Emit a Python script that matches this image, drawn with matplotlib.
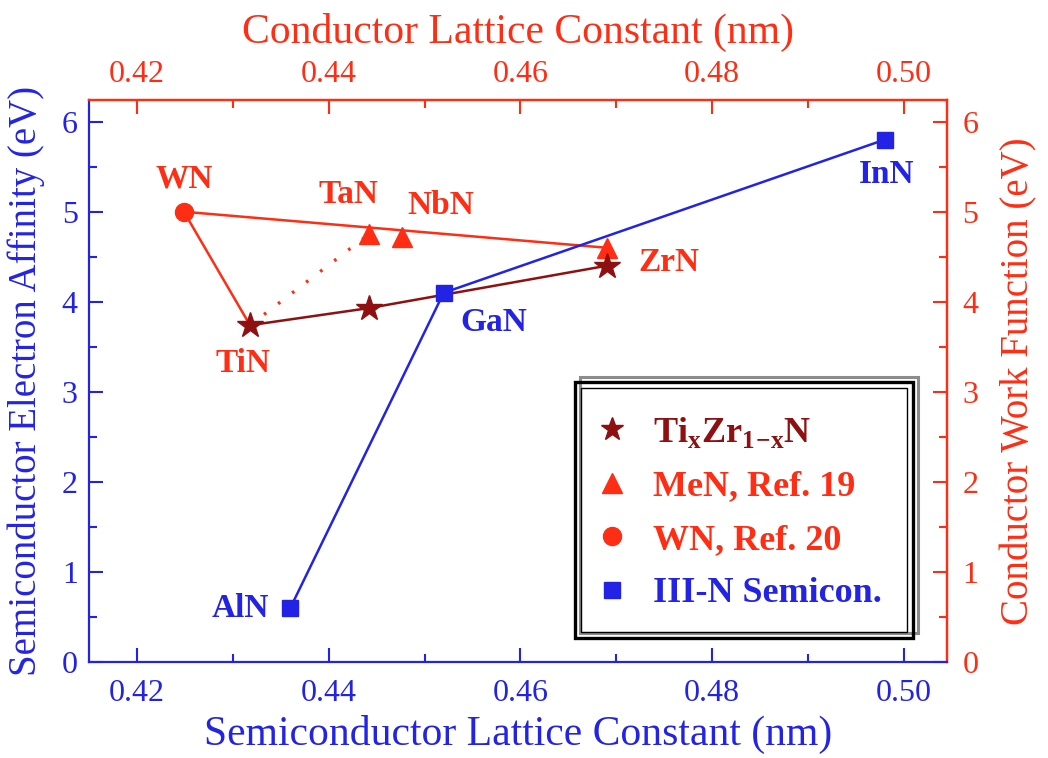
import numpy as np
import matplotlib
matplotlib.use("Agg")
import matplotlib.pyplot as plt
from matplotlib.ticker import MultipleLocator
from matplotlib.patches import Rectangle
from matplotlib.lines import Line2D

plt.rcParams["font.family"] = ["Liberation Serif", "DejaVu Serif"]
plt.rcParams["mathtext.fontset"] = "custom"
plt.rcParams["mathtext.rm"] = "Liberation Serif"
plt.rcParams["mathtext.bf"] = "Liberation Serif:bold"

BLUE = "#2323e6"
RED = "#ff2d14"
DARKRED = "#8e1010"

# III-N semiconductors: lattice constant (nm), electron affinity (eV)
semi_names = ["AlN", "GaN", "InN"]
semi_a = [0.436, 0.452, 0.498]
semi_chi = [0.6, 4.1, 5.8]

# Ti_xZr_{1-x}N alloys: lattice constant, work function
tizr_a = [0.4318, 0.4442, 0.469]
tizr_wf = [3.74, 3.93, 4.40]

# MeN, Ref. 19 (TaN, NbN, ZrN)
men_names = ["TaN", "NbN", "ZrN"]
men_a = [0.4442, 0.4477, 0.469]
men_wf = [4.75, 4.72, 4.60]

# WN, Ref. 20
wn_a = [0.4249]
wn_wf = [5.0]

# axis ticks
x_ticks = [0.42, 0.44, 0.46, 0.48, 0.50]
x_minor = [0.43, 0.45, 0.47, 0.49]
y_ticks = [0, 1, 2, 3, 4, 5, 6]
y_minor = [0.5, 1.5, 2.5, 3.5, 4.5, 5.5]

# label offsets (pixels) for point labels
semi_off = [(-50, 0), (50, -30), (2, -35)]

fig = plt.figure(figsize=(10.48, 7.58), dpi=100)
ax = fig.add_axes([0.0849, 0.1266, 0.8187, 0.7414])

# red polygon WN -> ZrN and WN -> TiN
ax.plot([wn_a[0], men_a[2]], [wn_wf[0], men_wf[2]], color=RED, lw=1.8, zorder=2)
ax.plot([wn_a[0], tizr_a[0]], [wn_wf[0], tizr_wf[0]], color=RED, lw=1.8, zorder=2)
# dotted TiN -> TaN
ax.plot([tizr_a[0], men_a[0]], [tizr_wf[0], men_wf[0]], color=RED, lw=2.4,
        ls=(0, (0.8, 4.5)), zorder=2)
# TixZr1-xN line
ax.plot(tizr_a, tizr_wf, color=DARKRED, lw=1.8, zorder=3)
# semiconductors
ax.plot(semi_a, semi_chi, color=BLUE, lw=1.8, zorder=3)

ax.plot(semi_a, semi_chi, ls="none", marker="s", ms=11, color=BLUE, zorder=5)
ax.plot(men_a, men_wf, ls="none", marker="^", ms=14, color=RED, zorder=4)
ax.plot(wn_a, wn_wf, ls="none", marker="o", ms=13, color=RED, zorder=4)
ax.plot(tizr_a, tizr_wf, ls="none", marker="*", ms=19, color=DARKRED, zorder=5)

lab_kw = dict(textcoords="offset pixels", ha="center", va="center",
              fontsize=24, fontweight="bold")
for n, x, y, o in zip(semi_names, semi_a, semi_chi, semi_off):
    ax.annotate(n, (x, y), xytext=o, color=BLUE, **lab_kw)
ax.annotate(men_names[0], (men_a[0], men_wf[0]), xytext=(-20, 40), color=RED, **lab_kw)
ax.annotate(men_names[1], (men_a[1], men_wf[1]), xytext=(38, 31), color=RED, **lab_kw)
ax.annotate(men_names[2], (tizr_a[2], tizr_wf[2]), xytext=(62, 3), color=RED, **lab_kw)
ax.annotate("WN", (wn_a[0], wn_wf[0]), xytext=(0, 33), color=RED, **lab_kw)
ax.annotate("TiN", (tizr_a[0], tizr_wf[0]), xytext=(-7, -38), color=RED, **lab_kw)

ax.set_xlim(0.415, 0.5045)
ax.set_ylim(0, 6.24)
ax.set_xticks(x_ticks, [f"{v:.2f}" for v in x_ticks])
ax.set_xticks(x_minor, minor=True)
ax.set_yticks(y_ticks, [str(v) for v in y_ticks])
ax.set_yticks(y_minor, minor=True)

ax.set_xlabel("Semiconductor Lattice Constant (nm)", fontsize=30, color=BLUE, labelpad=5)
ax.set_ylabel("Semiconductor Electron Affinity (eV)", fontsize=28, color=BLUE, labelpad=12)

ax.spines["left"].set_color(BLUE)
ax.spines["bottom"].set_color(BLUE)
ax.spines["top"].set_color(RED)
ax.spines["right"].set_color(RED)
for s in ax.spines.values():
    s.set_linewidth(1.6)
ax.tick_params(which="both", direction="in", colors=BLUE, labelsize=23, width=1.5,
               top=False, right=False, pad=8)
ax.tick_params(axis="x", which="both", pad=12)
ax.tick_params(which="major", length=10)
ax.tick_params(which="minor", length=6)

# right axis: conductor work function
axr = ax.secondary_yaxis("right")
axr.set_yticks(y_ticks, [str(v) for v in y_ticks])
axr.set_yticks(y_minor, minor=True)
axr.tick_params(which="both", direction="in", colors=RED, labelsize=23, width=1.5, pad=11)
axr.tick_params(which="major", length=10)
axr.tick_params(which="minor", length=6)
axr.spines["right"].set_color(RED)
axr.spines["right"].set_linewidth(1.6)
axr.set_ylabel("Conductor Work Function (eV)", fontsize=28, color=RED, labelpad=16)

# top axis: conductor lattice constant
axt = ax.secondary_xaxis("top")
axt.set_xticks(x_ticks, [f"{v:.2f}" for v in x_ticks])
axt.set_xticks(x_minor, minor=True)
axt.tick_params(which="both", direction="in", colors=RED, labelsize=23, width=1.5, pad=8)
axt.tick_params(which="major", length=10)
axt.tick_params(which="minor", length=6)
axt.spines["top"].set_color(RED)
axt.spines["top"].set_linewidth(1.6)
axt.set_xlabel("Conductor Lattice Constant (nm)", fontsize=30, color=RED, labelpad=12)

# legend
handles = [
    Line2D([], [], ls="none", marker="*", ms=17, color=DARKRED),
    Line2D([], [], ls="none", marker="^", ms=15, color=RED),
    Line2D([], [], ls="none", marker="o", ms=13, color=RED),
    Line2D([], [], ls="none", marker="s", ms=11, color=BLUE),
]
labels = [r"Ti$_{\mathbf{x}}$Zr$_{\mathbf{1\!-\!x}}$N", "MeN, Ref. 19",
          "WN, Ref. 20", "III-N Semicon."]
leg = ax.legend(handles, labels, loc="upper left", bbox_to_anchor=(0.588, 0.44),
                frameon=False, prop=dict(size=26, weight="bold"),
                handlelength=1.0, handletextpad=0.65, labelspacing=0.56,
                borderaxespad=0, borderpad=0)
for t, c in zip(leg.get_texts(), [DARKRED, RED, RED, BLUE]):
    t.set_color(c)

# double frame with shadow
ax.add_patch(Rectangle((0.5722, 0.0520), 0.394, 0.4555, transform=ax.transAxes,
                       fill=False, ec="#8c8c8c", lw=2.2, zorder=6))
ax.add_patch(Rectangle((0.5664, 0.0427), 0.394, 0.4555, transform=ax.transAxes,
                       fc="none", ec="black", lw=2.4, zorder=7))
ax.add_patch(Rectangle((0.5734, 0.0534), 0.380, 0.4341, transform=ax.transAxes,
                       fill=False, ec="black", lw=1.0, zorder=7))

fig.savefig("out.png", dpi=100)
